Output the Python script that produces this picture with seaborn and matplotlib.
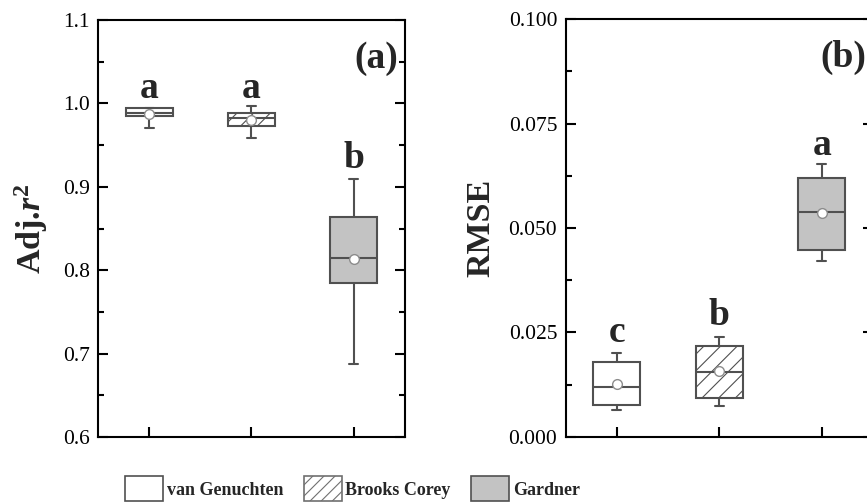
import numpy as np
import pandas as pd
import matplotlib
matplotlib.use("Agg")
import matplotlib.pyplot as plt
import seaborn as sns
from matplotlib.patches import Patch
from matplotlib.ticker import MultipleLocator, FormatStrFormatter

# ---- data -------------------------------------------------------------
models = ["van Genuchten", "Brooks Corey", "Gardner"]

# five-number summaries: lower whisker, Q1, median, Q3, upper whisker
adj_r2_vg = [0.971, 0.985, 0.989, 0.994, 0.995]
adj_r2_bc = [0.959, 0.973, 0.982, 0.989, 0.997]
adj_r2_gd = [0.687, 0.785, 0.815, 0.864, 0.909]
adj_r2_mean = [0.987, 0.980, 0.813]

rmse_vg = [0.0064, 0.0076, 0.0120, 0.0178, 0.0200]
rmse_bc = [0.0074, 0.0093, 0.0156, 0.0218, 0.0239]
rmse_gd = [0.0422, 0.0447, 0.0538, 0.0621, 0.0653]
rmse_mean = [0.0126, 0.0157, 0.0535]

# significance groups and the height of each letter
adj_r2_letters = ["a", "a", "b"]
adj_r2_letter_y = [1.007, 1.007, 0.9225]
rmse_letters = ["c", "b", "a"]
rmse_letter_y = [0.0228, 0.0268, 0.0675]

# ---- style ------------------------------------------------------------
sns.set_style("ticks")
plt.rcParams["font.family"] = ["Liberation Serif", "DejaVu Serif"]
plt.rcParams["mathtext.fontset"] = "custom"
plt.rcParams["mathtext.rm"] = "Liberation Serif:bold"
plt.rcParams["mathtext.it"] = "Liberation Serif:italic:bold"
plt.rcParams["mathtext.bf"] = "Liberation Serif:bold"
plt.rcParams["axes.edgecolor"] = "black"
plt.rcParams["hatch.linewidth"] = 0.8

EDGE = "#505050"
fills = {"van Genuchten": "white", "Brooks Corey": "white", "Gardner": "#c3c3c3"}
BOX_W = 0.46


def draw_panel(ax, summaries, means, letters, letter_y, ylim, major, minor,
               fmt, ylabel, tag):
    df = pd.DataFrame({"model": np.repeat(models, 5),
                       "value": np.concatenate(summaries)})
    sns.boxplot(data=df, x="model", y="value", hue="model", order=models,
                hue_order=models, palette=fills, legend=False, width=BOX_W,
                whis=(0, 100), showfliers=False, linecolor=EDGE,
                linewidth=1.5, ax=ax)
    # diagonal hatching on the Brooks Corey box
    for p in ax.patches:
        ext = p.get_path().get_extents(p.get_transform())
        xc = ax.transData.inverted().transform(((ext.x0 + ext.x1) / 2, 0))[0]
        if round(xc) == 1:
            p.set_hatch("//")
    # short whisker caps
    for ln in ax.lines:
        xd, yd = np.asarray(ln.get_xdata(), float), np.asarray(ln.get_ydata(), float)
        if len(xd) == 2 and yd[0] == yd[1] and abs(xd[1] - xd[0]) < BOX_W * 0.9:
            c = (xd[0] + xd[1]) / 2
            ln.set_xdata([c - 0.045, c + 0.045])
    sns.pointplot(x=models, y=means, order=models, linestyle="none",
                  marker="o", markersize=7, markerfacecolor="white",
                  markeredgecolor="#8c8c8c", markeredgewidth=1.0,
                  color="#8c8c8c", errorbar=None, ax=ax, zorder=5)

    for i, (lab, y) in enumerate(zip(letters, letter_y)):
        ax.text(i, y, lab, ha="center", va="baseline", fontsize=27,
                fontweight="bold")
    ax.text(0.977, 0.885, tag, transform=ax.transAxes, ha="right",
            va="baseline", fontsize=27, fontweight="bold")

    ax.set_xlim(-0.5, 2.5)
    ax.set_ylim(*ylim)
    ax.yaxis.set_major_locator(MultipleLocator(major))
    ax.yaxis.set_minor_locator(MultipleLocator(minor))
    ax.yaxis.set_major_formatter(FormatStrFormatter(fmt))
    ax.set_xlabel("")
    ax.set_ylabel(ylabel, fontsize=24.5, fontweight="bold", labelpad=9)
    ax.tick_params(axis="both", which="both", direction="in", left=True,
                   right=True, top=False, bottom=True, width=1.5,
                   labelbottom=False, labelsize=15.5, pad=6, colors="black")
    ax.tick_params(axis="both", which="major", length=7)
    ax.tick_params(axis="y", which="minor", length=4)
    for s in ax.spines.values():
        s.set_linewidth(1.5)
        s.set_color("black")
        s.set_visible(True)


fig = plt.figure(figsize=(8.67, 5.04), dpi=100)
ax1 = fig.add_axes([0.1130, 0.1329, 0.3541, 0.8274])
ax2 = fig.add_axes([0.6523, 0.1335, 0.3547, 0.8282])

draw_panel(ax1, [adj_r2_vg, adj_r2_bc, adj_r2_gd], adj_r2_mean,
           adj_r2_letters, adj_r2_letter_y, (0.6, 1.1), 0.1, 0.05, "%.1f",
           r"Adj.$\mathit{r}^{2}$", "(a)")
draw_panel(ax2, [rmse_vg, rmse_bc, rmse_gd], rmse_mean,
           rmse_letters, rmse_letter_y, (0.0, 0.1), 0.025, 0.0125, "%.3f",
           "RMSE", "(b)")

handles = [
    Patch(facecolor=fills[models[0]], edgecolor=EDGE, linewidth=1.2),
    Patch(facecolor=fills[models[1]], edgecolor="#707070", linewidth=1.2, hatch="///"),
    Patch(facecolor=fills[models[2]], edgecolor=EDGE, linewidth=1.2),
]
fig.legend(handles, models, loc="center", bbox_to_anchor=(0.4066, 0.03),
           ncol=3, frameon=False, handlelength=2.1, handleheight=1.75,
           handletextpad=0.2, columnspacing=1.15, borderpad=0,
           prop={"family": "Liberation Serif", "weight": "bold", "size": 13})

fig.savefig("out.png", dpi=100)
